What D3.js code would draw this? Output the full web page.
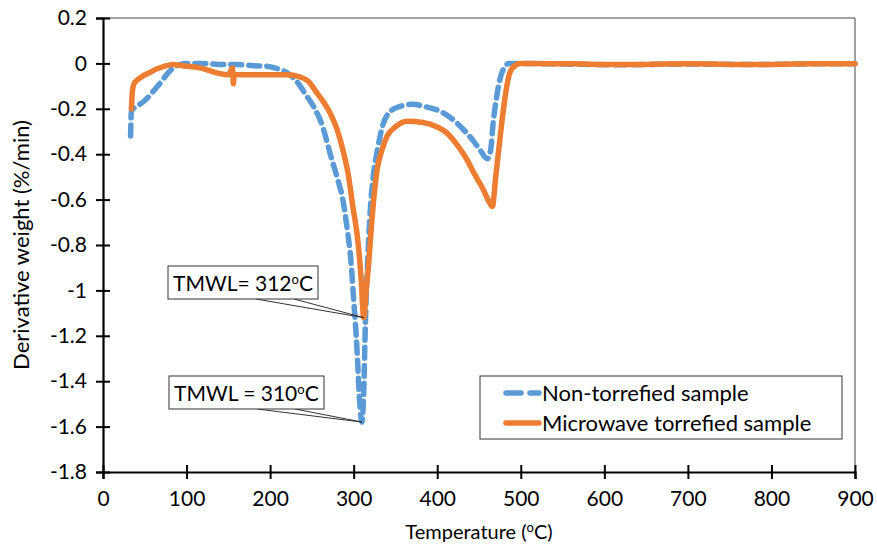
<!DOCTYPE html>
<html>
<head>
<meta charset="utf-8">
<script src="https://cdn.jsdelivr.net/npm/d3@7"></script>
<style>
  body { margin: 0; background: #fff; }
  text { font-family: Lato, "Open Sans", sans-serif; fill: #000; }
</style>
</head>
<body>
<script>
// DTG curves
var tempNon = [33, 34, 40, 48, 55, 62, 70, 76, 84, 92, 100, 120, 140, 160, 180, 196, 210, 220, 232, 244,
    252, 263, 272, 280, 287, 293, 296, 300, 304, 307, 310, 312, 314, 317, 320, 324, 328, 335, 343, 355,
    371, 385, 403, 418, 431, 443, 451, 460, 464, 467, 471, 475, 480, 486, 500, 550, 620, 700, 780, 850, 900];
var valNon = [-0.32, -0.21, -0.19, -0.17, -0.145, -0.115, -0.08, -0.05, -0.02, -0.005, 0, 0, -0.005, -0.005, -0.01, -0.013, -0.025, -0.04, -0.08, -0.145,
    -0.19, -0.28, -0.40, -0.50, -0.60, -0.75, -0.84, -1.04, -1.26, -1.48, -1.58, -1.45, -1.15, -0.85, -0.64, -0.48, -0.39, -0.27, -0.215, -0.19,
    -0.18, -0.19, -0.21, -0.245, -0.29, -0.34, -0.38, -0.42, -0.38, -0.26, -0.15, -0.07, -0.02, 0, 0, -0.003, -0.006, -0.003, -0.005, -0.002, -0.002];

var tempMw = [34, 35, 37, 42, 48, 56, 64, 74, 84, 95, 116, 130, 140, 150, 155, 156, 157, 170, 196, 220,
    236, 246, 256, 264, 272, 280, 287, 294, 299, 305, 309, 312, 315, 318, 320, 324, 328, 334, 340, 350,
    364, 383, 400, 411, 424, 435, 445, 455, 462, 466, 470, 475, 480, 487, 495, 500, 560, 620, 700, 780, 850, 900];
var valMw = [-0.2, -0.13, -0.09, -0.07, -0.055, -0.04, -0.025, -0.012, -0.005, -0.01, -0.02, -0.035, -0.045, -0.05, -0.02, -0.09, -0.05, -0.05, -0.05, -0.05,
    -0.06, -0.08, -0.13, -0.17, -0.22, -0.29, -0.38, -0.50, -0.63, -0.78, -0.95, -1.12, -1.00, -0.88, -0.78, -0.60, -0.47, -0.38, -0.32, -0.28,
    -0.255, -0.26, -0.28, -0.305, -0.36, -0.42, -0.49, -0.555, -0.61, -0.63, -0.50, -0.335, -0.18, -0.04, -0.005, 0, -0.002, -0.005, -0.002, -0.005, -0.002, -0.002];

var xTicks = [0, 100, 200, 300, 400, 500, 600, 700, 800, 900];
var yTicks = [0.2, 0, -0.2, -0.4, -0.6, -0.8, -1, -1.2, -1.4, -1.6, -1.8];
var yTickLabels = ["0.2", "0", "-0.2", "-0.4", "-0.6", "-0.8", "-1", "-1.2", "-1.4", "-1.6", "-1.8"];
var seriesNames = ["Non-torrefied sample", "Microwave torrefied sample"];
var peaks = [{t: 312, v: -1.12, label: "TMWL= 312"}, {t: 310, v: -1.58, label: "TMWL = 310"}];

var width = 877, height = 545;
var margin = {top: 18, right: 22, bottom: 73, left: 103};

var svg = d3.select("body").append("svg")
    .attr("width", width)
    .attr("height", height);

var x = d3.scaleLinear().domain([0, 900]).range([margin.left, width - margin.right]);
var y = d3.scaleLinear().domain([-1.8, 0.2]).range([height - margin.bottom, margin.top]);

// thin frame on top and right
svg.append("path")
    .attr("d", `M${x(0)},${y(0.2)}H${x(900)}V${y(-1.8)}`)
    .attr("fill", "none")
    .attr("stroke", "#444")
    .attr("stroke-width", 1);

// y axis
svg.append("g")
    .attr("transform", `translate(${x(0)},0)`)
    .call(d3.axisLeft(y).tickValues(yTicks).tickSize(7).tickPadding(9)
        .tickFormat((d, i) => yTickLabels[i]))
    .call(g => g.select(".domain").attr("stroke-width", 2.2).attr("stroke", "#000"))
    .call(g => g.selectAll(".tick line").attr("x1", 7).attr("stroke-width", 2).attr("stroke", "#000"))
    .call(g => g.selectAll(".tick text").style("font-size", "21px").style("font-family", "Lato"));

// x axis
svg.append("g")
    .attr("transform", `translate(0,${y(-1.8)})`)
    .call(d3.axisBottom(x).tickValues(xTicks).tickSize(7).tickPadding(12))
    .call(g => g.select(".domain").attr("stroke-width", 2.2).attr("stroke", "#000"))
    .call(g => g.selectAll(".tick line").attr("y1", -7).attr("stroke-width", 2).attr("stroke", "#000"))
    .call(g => g.selectAll(".tick text").style("font-size", "21px").style("font-family", "Lato"));

// axis titles
var xt = svg.append("text")
    .attr("x", (x(0) + x(900)) / 2)
    .attr("y", 539)
    .attr("text-anchor", "middle")
    .style("font-size", "20px");
xt.append("tspan").text("Temperature (");
xt.append("tspan").attr("dy", -7).style("font-size", "13px").text("o");
xt.append("tspan").attr("dy", 7).text("C)");

svg.append("text")
    .attr("transform", `translate(29,${(y(0.2) + y(-1.8)) / 2}) rotate(-90)`)
    .attr("text-anchor", "middle")
    .style("font-size", "22px")
    .text("Derivative weight (%/min)");

var line = d3.line()
    .x(d => x(d[0]))
    .y(d => y(d[1]))
    .curve(d3.curveMonotoneX);

svg.append("path")
    .datum(d3.zip(tempNon, valNon))
    .attr("fill", "none")
    .attr("stroke", "#5B9BD5")
    .attr("stroke-width", 5.5)
    .attr("stroke-dasharray", "11,7")
    .attr("stroke-linecap", "round")
    .attr("d", line);

svg.append("path")
    .datum(d3.zip(tempMw, valMw))
    .attr("fill", "none")
    .attr("stroke", "#ED7D31")
    .attr("stroke-width", 5.5)
    .attr("stroke-linejoin", "round")
    .attr("stroke-linecap", "round")
    .attr("d", line);

// peak callouts
var boxes = [{x: 168, y: 266, w: 150, h: 33}, {x: 169, y: 376, w: 155, h: 33}];
peaks.forEach(function(p, i) {
    var b = boxes[i];
    var px = x(p.t), py = y(p.v);
    svg.append("path")
        .attr("d", `M${b.x + 88},${b.y + b.h}L${px},${py}L${b.x + 126},${b.y + b.h}`)
        .attr("fill", "none")
        .attr("stroke", "#333")
        .attr("stroke-width", 1);
    svg.append("rect")
        .attr("x", b.x).attr("y", b.y)
        .attr("width", b.w).attr("height", b.h)
        .attr("fill", "#fff")
        .attr("stroke", "#333")
        .attr("stroke-width", 1);
    var t = svg.append("text")
        .attr("x", b.x + 5)
        .attr("y", b.y + 25)
        .style("font-size", "21px");
    t.append("tspan").text(p.label);
    t.append("tspan").attr("dy", -7).style("font-size", "13px").text("o");
    t.append("tspan").attr("dy", 7).text("C");
});

// legend
var lg = svg.append("g").attr("transform", "translate(480,376)");
lg.append("rect")
    .attr("width", 362).attr("height", 63)
    .attr("fill", "#fff")
    .attr("stroke", "#333")
    .attr("stroke-width", 1);
var legendColors = ["#5B9BD5", "#ED7D31"];
seriesNames.forEach(function(name, i) {
    var ly = 17 + i * 30;
    lg.append("line")
        .attr("x1", 26).attr("x2", 59)
        .attr("y1", ly).attr("y2", ly)
        .attr("stroke", legendColors[i])
        .attr("stroke-width", 5.5)
        .attr("stroke-linecap", "round")
        .attr("stroke-dasharray", i === 0 ? "15,9" : null);
    lg.append("text")
        .attr("x", 62)
        .attr("y", ly + 8)
        .style("font-size", "22px")
        .text(name);
});
</script>
</body>
</html>
